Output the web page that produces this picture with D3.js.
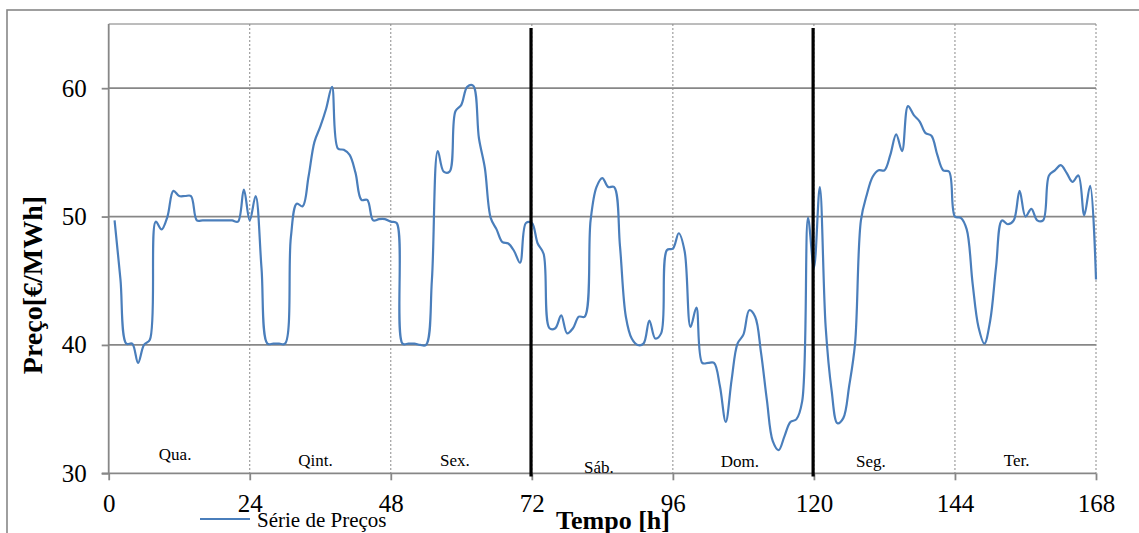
<!DOCTYPE html>
<html>
<head>
<meta charset="utf-8">
<script src="https://cdn.jsdelivr.net/npm/d3@7"></script>
<style>
  html, body { margin: 0; padding: 0; background: #fff; }
  svg { display: block; }
  text { font-family: "Liberation Serif", "Times New Roman", serif; fill: #000; }
</style>
</head>
<body>
<svg id="chart" width="1139" height="533"></svg>
<script>
// ---------------- data ----------------
const hours = d3.range(1, 169);
const prices = [
  49.7, 45.1, 40.1, 40.1, 38.6, 40.0, 40.4, 49.6, 49.0, 50.0, 52.0, 51.6,
  51.6, 51.6, 49.7, 49.7, 49.7, 49.7, 49.7, 49.7, 49.7, 49.6, 52.1, 49.7,
  51.6, 46.0, 40.1, 40.1, 40.1, 40.1, 48.4, 51.0, 50.8, 53.1, 55.8, 57.0,
  58.4, 60.1, 55.3, 55.2, 54.8, 53.4, 51.3, 51.3, 49.7, 49.8, 49.8, 49.6,
  49.5, 40.1, 40.1, 40.1, 40.0, 40.0, 45.1, 55.1, 53.5, 53.5, 58.2, 58.7,
  60.1, 60.2, 56.1, 53.8, 49.9, 49.0, 48.0, 47.9, 47.3, 46.4, 49.5, 49.5,
  47.9, 47.1, 41.3, 41.3, 42.3, 40.9, 41.3, 42.2, 42.2, 49.7, 52.3, 53.0,
  52.3, 52.3, 47.7, 42.2, 40.5, 40.0, 40.1, 41.9, 40.5, 40.9, 47.4, 47.5,
  48.7, 47.3, 41.4, 42.9, 38.6, 38.6, 38.6, 36.8, 34.0, 37.3, 40.1, 40.8,
  42.7, 42.2, 39.4, 35.7, 32.5, 31.8, 32.9, 34.0, 34.2, 35.6, 49.9, 46.0,
  52.3, 41.4, 36.5, 33.9, 34.3, 36.8, 40.1, 49.7, 51.7, 53.1, 53.6, 53.6,
  54.8, 56.4, 55.1, 58.6, 57.9, 57.4, 56.5, 56.3, 54.8, 53.6, 53.5, 50.0,
  49.9, 49.0, 44.8, 41.4, 40.1, 41.9, 46.1, 49.7, 49.4, 49.7, 52.0, 50.0,
  50.6, 49.7, 49.7, 53.2, 53.6, 54.0, 53.4, 52.7, 53.2, 50.1, 52.4, 45.1
];
const xTicks = [0, 24, 48, 72, 96, 120, 144, 168];
const yTicks = [30, 40, 50, 60];
const dayLabels = ["Qua.", "Qint.", "Sex.", "Sáb.", "Dom.", "Seg.", "Ter."];
const weekBreaks = [72, 120];
const seriesName = "Série de Preços";
const xTitle = "Tempo [h]";
const yTitle = "Preço[€/MWh]";

// ---------------- layout ----------------
const svg = d3.select("#chart");
const pLeft = 108.7, pRight = 1096, pTop = 24, pBottom = 473.3;
const x = d3.scaleLinear().domain([0, 168]).range([pLeft, pRight]);
const y = d3.scaleLinear().domain([30, 65]).range([pBottom, pTop]);
const grey = "#878787";

// outer chart frame
svg.append("rect").attr("x", 7).attr("y", 10).attr("width", 1160).attr("height", 600)
  .attr("fill", "none").attr("stroke", grey).attr("stroke-width", 1.6);

// plot top border
svg.append("line").attr("x1", pLeft).attr("x2", pRight).attr("y1", pTop).attr("y2", pTop)
  .attr("stroke", "#7a7a7a").attr("stroke-width", 1);

// horizontal gridlines
svg.append("g").selectAll("line").data(yTicks.filter(d => d > 30)).join("line")
  .attr("x1", pLeft).attr("x2", pRight)
  .attr("y1", d => y(d)).attr("y2", d => y(d))
  .attr("stroke", grey).attr("stroke-width", 1.8);

// vertical dotted gridlines
svg.append("g").selectAll("line").data(xTicks.filter(d => d > 0)).join("line")
  .attr("x1", d => x(d)).attr("x2", d => x(d))
  .attr("y1", pTop).attr("y2", pBottom)
  .attr("stroke", "#8a8a8a").attr("stroke-width", 1).attr("stroke-dasharray", "2,2");

// axes
const xAxis = svg.append("g").attr("transform", `translate(0,${pBottom})`)
  .call(d3.axisBottom(x).tickValues(xTicks).tickSize(7).tickPadding(14).tickFormat(d3.format("d")));
const yAxis = svg.append("g").attr("transform", `translate(${pLeft},0)`)
  .call(d3.axisLeft(y).tickValues(yTicks).tickSize(7).tickPadding(15).tickFormat(d3.format("d")));
[xAxis, yAxis].forEach(a => {
  a.select(".domain").attr("stroke", grey).attr("stroke-width", 1.8);
  a.selectAll(".tick line").attr("stroke", grey).attr("stroke-width", 1.8);
  a.selectAll(".tick text").attr("font-family", "Liberation Serif").attr("font-size", 25).attr("fill", "#000");
});
yAxis.select(".domain").attr("d", `M-7,${pBottom}H0V${pTop}`);
xAxis.select(".domain").attr("d", `M${pLeft},0H${pRight}`);

// day labels
const dayAnchor = [11.3, 35.2, 58.9, 83.4, 107.4, 129.7, 154.5];
const dayBase = [459.5, 466, 466, 473, 467, 467, 466];
svg.append("g").selectAll("text").data(dayLabels).join("text")
  .attr("x", (d, i) => x(dayAnchor[i]))
  .attr("y", (d, i) => dayBase[i])
  .attr("text-anchor", "middle").attr("font-size", 17).text(d => d);

// series line
const line = d3.line()
  .x((d, i) => x(hours[i]))
  .y(d => y(d))
  .curve(d3.curveCatmullRom.alpha(0.5));
svg.append("path").datum(prices).attr("d", line)
  .attr("fill", "none").attr("stroke", "#4a7ebb").attr("stroke-width", 2.2)
  .attr("stroke-linejoin", "round");

// week breaks (thick black)
svg.append("g").selectAll("line").data(weekBreaks).join("line")
  .attr("x1", d => x(d) - 0.8).attr("x2", d => x(d) - 0.8)
  .attr("y1", 28).attr("y2", 476.5)
  .attr("stroke", "#000").attr("stroke-width", 3.2);

// axis titles
svg.append("text").attr("x", 613).attr("y", 529).attr("text-anchor", "middle")
  .attr("font-weight", "bold").attr("font-size", 26).text(xTitle);
svg.append("text").attr("transform", "translate(42,285) rotate(-90)")
  .attr("text-anchor", "middle").attr("font-weight", "bold").attr("font-size", 28).text(yTitle);

// legend
svg.append("line").attr("x1", 200).attr("x2", 250).attr("y1", 519).attr("y2", 519)
  .attr("stroke", "#4a7ebb").attr("stroke-width", 2);
svg.append("text").attr("x", 257).attr("y", 527).attr("font-size", 21).text(seriesName);
</script>
</body>
</html>
